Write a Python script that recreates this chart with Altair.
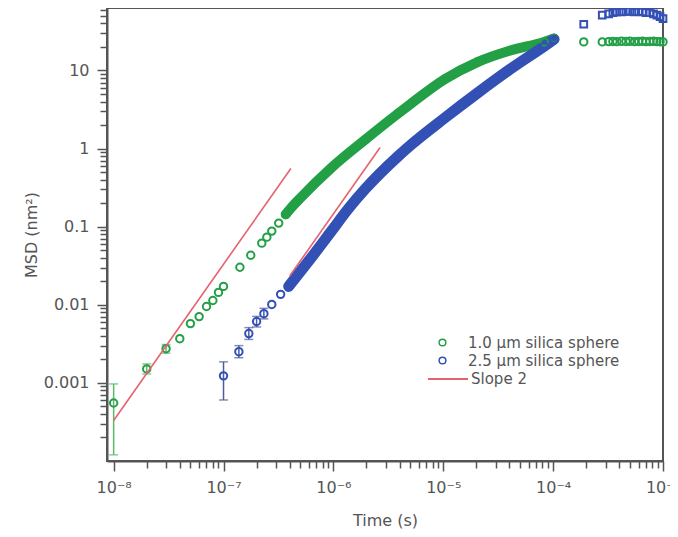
import altair as alt
import pandas as pd

# ---- data ----
green_t = [1e-8, 2e-8, 3e-8, 4e-8, 5e-8, 6e-8, 7e-8, 8e-8, 9e-8, 1e-7, 1.41e-7, 1.77e-7,
           2.23e-7, 2.48e-7, 2.75e-7, 3.18e-7, 3.68e-7, 4.17e-7, 4.82e-7, 9.6e-7, 1.95e-6,
           3.87e-6, 5.08e-6, 1.03e-5, 2.05e-5, 4.08e-5, 8.29e-5, 1.02e-4]
green_msd = [5.53e-4, 1.51e-3, 2.74e-3, 3.68e-3, 5.74e-3, 7.06e-3, 9.5e-3, 0.01135, 0.0144,
             0.0172, 0.0302, 0.043, 0.0615, 0.0734, 0.0877, 0.111, 0.1436, 0.177, 0.220,
             0.568, 1.30, 2.80, 3.75, 7.7, 12.8, 18.0, 23.2, 25.6]
blue_t = [1e-7, 1.38e-7, 1.70e-7, 2.0e-7, 2.33e-7, 2.75e-7, 3.31e-7, 3.92e-7, 5.94e-7, 9.59e-7,
          1.37e-6, 1.95e-6, 3.87e-6, 5.08e-6, 1.03e-5, 2.05e-5, 4.08e-5, 8.29e-5, 1.02e-4]
blue_msd = [1.23e-3, 2.51e-3, 4.28e-3, 6.1e-3, 7.7e-3, 0.0101, 0.0136, 0.0172, 0.0361, 0.0877,
            0.170, 0.304, 0.794, 1.115, 2.46, 5.14, 10.4, 20.4, 25.0]

tail_t = [1.9e-4, 2.8e-4, 3.2e-4, 3.5e-4, 3.8e-4, 4.2e-4, 4.6e-4, 5.0e-4, 5.5e-4, 6.0e-4,
          6.5e-4, 7.0e-4, 7.6e-4, 8.2e-4, 8.8e-4, 9.4e-4, 1.0e-3]
green_tail_msd = [23.2, 23.2, 23.4, 23.5, 23.4, 23.6, 23.5, 23.6, 23.4, 23.5, 23.6, 23.4, 23.5,
                  23.6, 23.4, 23.3, 23.2]
blue_tail_msd = [39, 51, 53, 55, 56, 56, 57, 57, 56, 57, 56, 55, 55, 53, 51, 49, 46]

# error bars
err_t = [1e-8, 2e-8, 3e-8, 1e-7, 1.38e-7, 1.70e-7, 2.0e-7, 2.33e-7]
err_lo = [1.2e-4, 1.3e-3, 2.4e-3, 6.04e-4, 2.1e-3, 3.6e-3, 5.2e-3, 6.6e-3]
err_hi = [9.7e-4, 1.75e-3, 3.1e-3, 1.86e-3, 3.0e-3, 5.1e-3, 7.1e-3, 9.0e-3]
err_series = ["g", "g", "g", "b", "b", "b", "b", "b"]

# slope-2 guide lines
slope_t = [1e-8, 4.1e-7, 4.0e-7, 2.66e-6]
slope_msd = [3.3e-4, 0.555, 0.0233, 1.03]
slope_seg = ["a", "a", "b", "b"]

S1 = "1.0 \u00b5m silica sphere"
S2 = "2.5 \u00b5m silica sphere"
GREEN = "#23a046"
BLUE = "#3350b5"
RED = "#e5626d"
TXT = "#555555"
FONT = "DejaVu Sans"

pts = pd.DataFrame({
    "t": green_t + blue_t,
    "msd": green_msd + blue_msd,
    "series": [S1] * len(green_t) + [S2] * len(blue_t),
})
band_g = pd.DataFrame({"t": green_t[16:], "msd": green_msd[16:]})
band_b = pd.DataFrame({"t": blue_t[7:], "msd": blue_msd[7:]})
tail_g = pd.DataFrame({"t": tail_t, "msd": green_tail_msd})
tail_b = pd.DataFrame({"t": tail_t, "msd": blue_tail_msd})
err = pd.DataFrame({"t": err_t, "lo": err_lo, "hi": err_hi, "s": err_series})
caps = pd.DataFrame({"t": err_t + err_t, "msd": err_lo + err_hi, "s": err_series + err_series})
slope = pd.DataFrame({"t": slope_t, "msd": slope_msd, "seg": slope_seg,
                      "label": ["Slope 2"] * 4})

xticks = [m * 10.0 ** e for e in range(-8, -3) for m in range(1, 10)] + [1e-3]
yticks = [m * 10.0 ** e for e in range(-4, 2) for m in range(1, 10)
          if 1.01e-4 < m * 10.0 ** e <= 63]

dec = "abs(log(datum.value)/LN10 - round(log(datum.value)/LN10)) < 0.001"
xlab = ("%s ? '10\u207b' + substring('\u2070\u00b9\u00b2\u00b3\u2074\u2075\u2076\u2077\u2078\u2079', "
        "-round(log(datum.value)/LN10), -round(log(datum.value)/LN10)+1) : ''") % dec
ylab = "%s ? format(datum.value, '~g') : ''" % dec

common = dict(domainColor="#555555", domainWidth=2, tickColor="#555555", tickWidth=1.5,
              labelColor=TXT, labelFont=FONT, labelFontSize=16, titleColor=TXT,
              titleFont=FONT, titleFontSize=16, titleFontWeight="normal", grid=False,
              labelFlush=False, labelOverlap=False,
              tickSize={"condition": {"test": dec, "value": 10}, "value": 7})

xaxis = alt.Axis(values=xticks, labelExpr=xlab, labelPadding=8, titlePadding=17, **common)
yaxis = alt.Axis(values=yticks, labelExpr=ylab, labelPadding=8, titlePadding=4, **common)

xs = alt.Scale(type="log", domain=[8.7e-9, 1e-3], nice=False)
ys = alt.Scale(type="log", domain=[1e-4, 63], nice=False)


def X():
    return alt.X("t:Q", scale=xs, axis=xaxis, title="Time (s)")


def Y(f="msd"):
    return alt.Y(f + ":Q", scale=ys, axis=yaxis, title="MSD (nm\u00b2)")


err_color = alt.Color("s:N", scale=alt.Scale(domain=["g", "b"], range=["#5cb86a", "#505c9c"]),
                      legend=None)

rules = alt.Chart(err).mark_rule(strokeWidth=1.5).encode(x=X(), y=Y("lo"), y2="hi:Q",
                                                         color=err_color)
capm = alt.Chart(caps).mark_tick(orient="horizontal", size=9, thickness=1.5).encode(
    x=X(), y=Y(), color=err_color)

bandg = alt.Chart(band_g).mark_line(strokeWidth=10, strokeCap="round", interpolate="monotone",
                                     color=GREEN).encode(x=X(), y=Y())
bandb = alt.Chart(band_b).mark_line(strokeWidth=11, strokeCap="round", interpolate="monotone",
                                     color=BLUE).encode(x=X(), y=Y())

points = alt.Chart(pts).mark_point(filled=False, size=55, strokeWidth=2, opacity=1).encode(
    x=X(), y=Y(),
    color=alt.Color("series:N", scale=alt.Scale(domain=[S1, S2], range=[GREEN, BLUE]),
                    legend=alt.Legend(orient="none", legendX=328, legendY=327, title=None,
                                      symbolType="circle", symbolSize=45,
                                      symbolStrokeWidth=1.5, labelFont=FONT,
                                      labelFontSize=15, labelColor=TXT, labelOffset=18,
                                      labelLimit=400, rowPadding=2, padding=0)))

tg = alt.Chart(tail_g).mark_point(filled=False, size=55, strokeWidth=2, color=GREEN,
                                  opacity=1).encode(x=X(), y=Y())
tb = alt.Chart(tail_b).mark_point(filled=False, shape="square", size=45, strokeWidth=2,
                                  color=BLUE, opacity=1).encode(x=X(), y=Y())

lines = alt.Chart(slope).mark_line(strokeWidth=1.6).encode(
    x=X(), y=Y(), detail="seg:N",
    color=alt.Color("label:N", scale=alt.Scale(domain=["Slope 2"], range=[RED]),
                    legend=alt.Legend(orient="none", legendX=320, legendY=350, title=None,
                                      symbolType="stroke", symbolSize=1600,
                                      symbolStrokeWidth=2, labelFont=FONT,
                                      labelFontSize=15, labelColor=TXT, labelOffset=2,
                                      labelLimit=400, padding=0)))

chart = alt.layer(rules, capm, bandg, bandb, points, tg, tb, lines).resolve_scale(
    color="independent"
).properties(
    width=556, height=453,
    padding={"left": 99, "top": 0, "right": 7, "bottom": 75},
    autosize=alt.AutoSizeParams(type="none"),
).configure_view(stroke="#555555", strokeWidth=2)

chart.save("out.html", embed_options={"renderer": "svg", "actions": False})
